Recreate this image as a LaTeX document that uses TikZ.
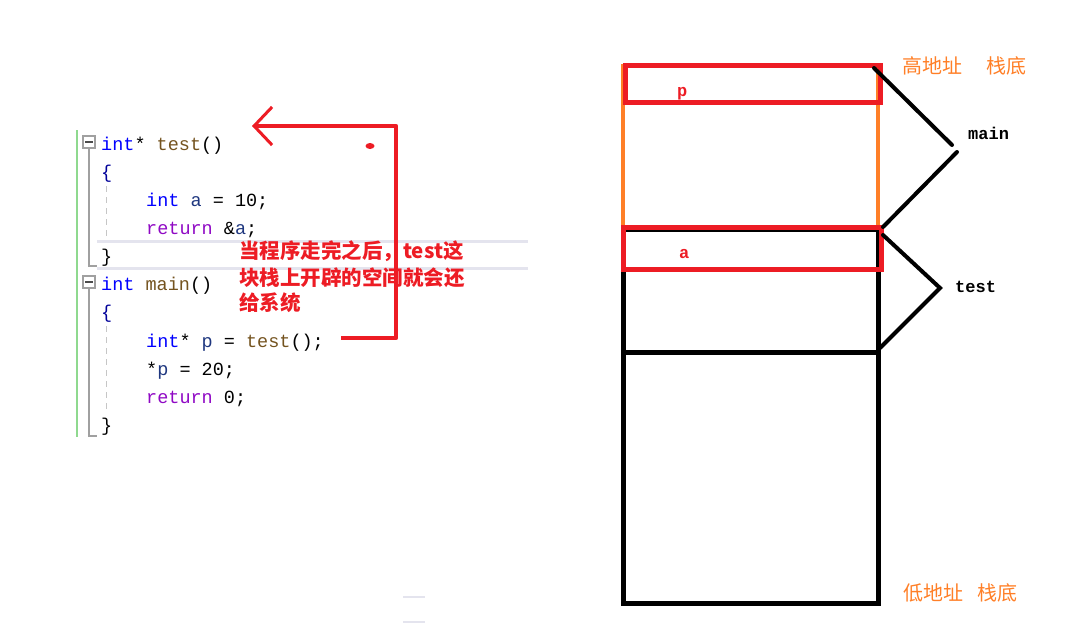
\documentclass[tikz,border=0pt]{standalone}
\usepackage{fontspec}
\newfontfamily\codefont{Liberation Mono}
\newfontfamily\cjk{Noto Sans CJK SC}
\usetikzlibrary{arrows.meta}
\definecolor{kw}{HTML}{0000FF}
\definecolor{fn}{HTML}{74531F}
\definecolor{ret}{HTML}{8F08C4}
\definecolor{var}{HTML}{1F377F}
\definecolor{myred}{HTML}{ED1C24}
\definecolor{myorange}{HTML}{FF7F27}
\definecolor{guide}{HTML}{A0A0A0}
\definecolor{hl}{HTML}{E4E4EE}
\definecolor{edgegreen}{HTML}{8FD98F}
\begin{document}
\begin{tikzpicture}[x=1pt,y=-1pt,
  code/.style={anchor=base west,inner sep=0pt,font=\codefont\fontsize{18.5}{20}\selectfont},
  note/.style={anchor=west,inner sep=0pt,text=myred,font=\cjk\bfseries\fontsize{20.5}{22}\selectfont},
  addr/.style={anchor=west,inner sep=0pt,text=myorange,font=\cjk\fontsize{20}{22}\selectfont},
  frame/.style={anchor=west,inner sep=0pt,font=\codefont\bfseries\fontsize{17}{18}\selectfont},
  redbox/.style={draw=myred,line width=5pt},
  blackbox/.style={draw=black,line width=5pt},
  brace/.style={draw=black,line width=4pt,line cap=round},
  redline/.style={draw=myred,line width=4.5pt}
]
\useasboundingbox (0,0) rectangle (1090,642);
% ---------- editor decorations ----------
\draw[hl,line width=3pt] (97,241) -- (528,241);
\draw[hl,line width=3pt] (97,268) -- (528,268);
\draw[hl,line width=2.5pt] (403,597) -- (425,597);
\draw[hl,line width=2.5pt] (403,622) -- (425,622);
\draw[edgegreen,line width=1.2pt] (77,130) -- (77,437);
\node[draw=guide,line width=1.2pt,minimum size=12pt,inner sep=0pt] (box1) at (89,142) {};
\node[draw=guide,line width=1.2pt,minimum size=12pt,inner sep=0pt] (box2) at (89,282) {};
\draw[black!70,line width=1.2pt] (box1.center) ++(-4,0) -- ++(8,0);
\draw[black!70,line width=1.2pt] (box2.center) ++(-4,0) -- ++(8,0);
\draw[guide,line width=1.4pt] (box1.south) -- (89,266) -- (97,266);
\draw[guide,line width=1.4pt] (box2.south) -- (89,436) -- (97,436);
\draw[guide!60,line width=1pt,dash pattern=on 6pt off 5pt] (106,186) -- (106,238);
\draw[guide!60,line width=1pt,dash pattern=on 6pt off 5pt] (106,326) -- (106,412);
% ---------- code ----------
\node[code] (l1) at (101,150) {\textcolor{kw}{int}* \textcolor{fn}{test}()};
\node[code] (l2) at (101,178) {\textcolor{kw!60!black}{\{}};
\node[code] (l3) at (146,206) {\textcolor{kw}{int} \textcolor{var}{a} = 10;};
\node[code] (l4) at (146,234) {\textcolor{ret}{return} \&\textcolor{var}{a};};
\node[code] (l5) at (101,262) {\}};
\node[code] (l6) at (101,290) {\textcolor{kw}{int} \textcolor{fn}{main}()};
\node[code] (l7) at (101,318) {\textcolor{kw!60!black}{\{}};
\node[code] (l8) at (146,347) {\textcolor{kw}{int}* \textcolor{var}{p} = \textcolor{fn}{test}();};
\node[code] (l9) at (146,375) {*\textcolor{var}{p} = 20;};
\node[code] (l10) at (146,403) {\textcolor{ret}{return} 0;};
\node[code] (l11) at (101,431) {\}};
% ---------- red arrow ----------
\coordinate (a0) at (341,338);
\coordinate (a1) at (396,338);
\coordinate (a2) at (396,126);
\coordinate (a3) at (252,126);
\draw[redline,line join=round,-{Straight Barb[length=18pt,width=38pt,line width=3pt]}] (a0) -- (a1) -- (a2) -- (a3);
\fill[myred] (370,146) ellipse (4.5pt and 3pt);
\node[note] (n1) at (239,251) {当程序走完之后，test这};
\node[note] (n2) at (239,278) {块栈上开辟的空间就会还};
\node[note] (n3) at (239,303) {给系统};
% ---------- stack ----------
\coordinate (s1) at (623,66);
\coordinate (s2) at (878,66);
\coordinate (s3) at (623,229);
\coordinate (s4) at (878,229);
\coordinate (s5) at (623,352);
\coordinate (s6) at (878,352);
\coordinate (s7) at (623,603);
\coordinate (s8) at (878,603);
\draw[blackbox] (s5) rectangle (s8);
\draw[blackbox] (s3) rectangle (s6);
\draw[myorange,line width=4pt] (s3) -- (s1) -- (s2) -- (s4);
\draw[redbox] (625,66) rectangle (880,102);
\draw[redbox] (623,227) rectangle (881,269);
\node[frame,text=myred] (p) at (677,94) {p};
\node[frame,text=myred] (a) at (679,254) {a};
% braces
\coordinate (m1) at (874,68);
\coordinate (m2) at (952,145);
\coordinate (m3) at (957,152);
\coordinate (m4) at (883,227);
\draw[brace] (m1) -- (m2);
\draw[brace] (m3) -- (m4);
\coordinate (t1) at (883,235);
\coordinate (t2) at (940,288);
\coordinate (t3) at (880,348);
\draw[brace,line join=miter] (t1) -- (t2) -- (t3);
\node[frame] (mainlbl) at (968,133) {main};
\node[frame] (testlbl) at (955,287) {test};
\node[addr] (hi) at (902,66) {高地址\hspace{1.2em}栈底};
\node[addr] (lo) at (903,593) {低地址\hspace{0.7em}栈底};
\end{tikzpicture}
\end{document}
